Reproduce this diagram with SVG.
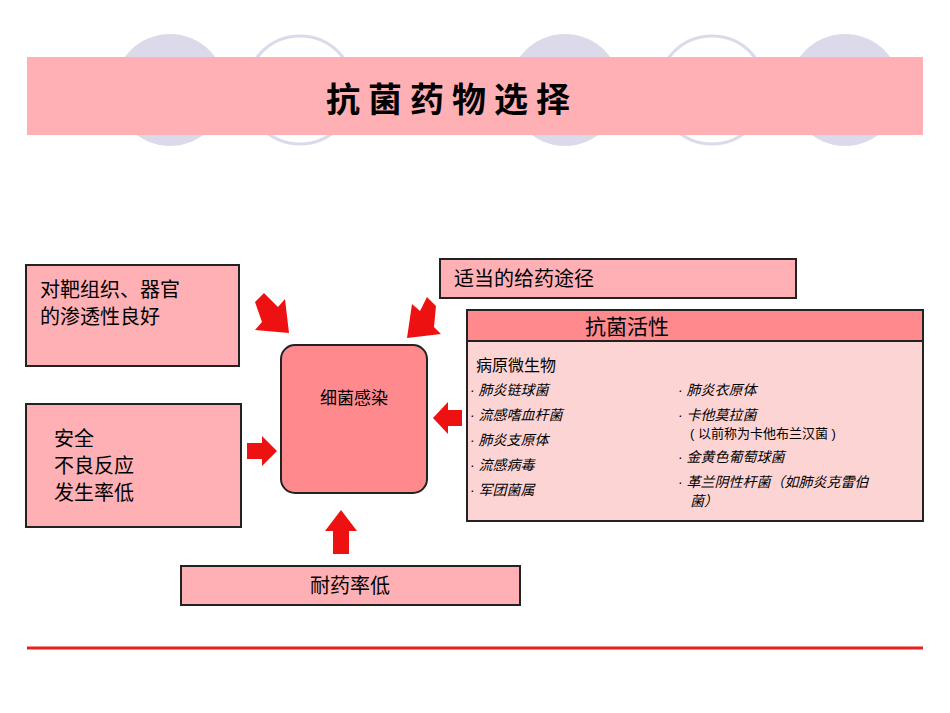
<svg xmlns="http://www.w3.org/2000/svg" width="950" height="713" viewBox="0 0 950 713">
<style>
text{font-family:"Liberation Sans","Noto Sans CJK SC",sans-serif;fill:#000}
.box{fill:#ffb0b4;stroke:#222;stroke-width:2}
.t{font-size:20px}
.i{font-size:14px;font-style:italic}
.arr{fill:#ee1111}
</style>
<rect width="950" height="713" fill="#fff"/>
<g>
<circle cx="170" cy="90" r="56" fill="#dcdaea"/>
<circle cx="300" cy="90" r="54" fill="#fff" stroke="#dcdaea" stroke-width="3"/>
<circle cx="565" cy="90" r="56" fill="#dcdaea"/>
<circle cx="712" cy="90" r="54" fill="#fff" stroke="#dcdaea" stroke-width="3"/>
<circle cx="845" cy="90" r="56" fill="#dcdaea"/>
<rect x="27" y="57" width="896" height="78" fill="#ffb0b4"/>
<text x="452" y="112" font-size="34" font-weight="bold" text-anchor="middle" letter-spacing="8">抗菌药物选择</text>
</g>
<g id="n1"><rect class="box" x="26" y="265" width="213" height="101"/>
<text class="t" x="40" y="297">对靶组织、器官</text><text class="t" x="40" y="324">的渗透性良好</text></g>
<g id="n2"><rect class="box" x="26" y="404" width="215" height="123"/>
<text class="t" x="54" y="446">安全</text><text class="t" x="54" y="473">不良反应</text><text class="t" x="54" y="500">发生率低</text></g>
<g id="n3"><rect class="box" x="181" y="566" width="339" height="39"/>
<text class="t" x="350" y="593" text-anchor="middle">耐药率低</text></g>
<g id="n4"><rect class="box" x="440" y="259" width="356" height="39"/>
<text class="t" x="454" y="286">适当的给药途径</text></g>
<g id="center"><rect x="281" y="345" width="146" height="148" rx="14" fill="#ff8a8e" stroke="#222" stroke-width="2"/>
<text x="354" y="404" font-size="17" text-anchor="middle">细菌感染</text></g>
<g id="n5">
<rect x="467" y="310" width="456" height="211" fill="#fdd4d4" stroke="#222" stroke-width="2"/>
<rect x="467" y="310" width="456" height="31" fill="#ff8a8e" stroke="#222" stroke-width="2"/>
<text x="627" y="334" font-size="21" text-anchor="middle">抗菌活性</text>
<text x="476" y="371" font-size="16">病原微生物</text>
<text class="i" x="470" y="395">· 肺炎链球菌</text>
<text class="i" x="470" y="420">· 流感嗜血杆菌</text>
<text class="i" x="470" y="445">· 肺炎支原体</text>
<text class="i" x="470" y="470">· 流感病毒</text>
<text class="i" x="470" y="495">· 军团菌属</text>
<text class="i" x="678" y="395">· 肺炎衣原体</text>
<text class="i" x="678" y="420">· 卡他莫拉菌</text>
<text x="690" y="438" font-size="13">( 以前称为卡他布兰汉菌 )</text>
<text class="i" x="678" y="462">· 金黄色葡萄球菌</text>
<text class="i" x="678" y="487">· 革兰阴性杆菌（如肺炎克雷伯</text>
<text class="i" x="690" y="506">菌）</text>
</g>
<g id="connectors">
<polygon class="arr" points="255,302 264,293 278,307 285,299 289,333 255,330 262,322" />
<polygon class="arr" points="247,443 262,443 262,436 277,451 262,466 262,459 247,459"/>
<polygon class="arr" points="333,554 333,531 325,531 341,510 357,531 349,531 349,554"/>
<polygon class="arr" points="462,410 462,426 448,426 448,434 433,418 448,402 448,410"/>
<polygon class="arr" points="436,306 427,297 420,311 412,304 407,338 441,334 434,327"/>
</g>
<line x1="27" y1="648" x2="923" y2="648" stroke="#e82020" stroke-width="3"/>
</svg>
